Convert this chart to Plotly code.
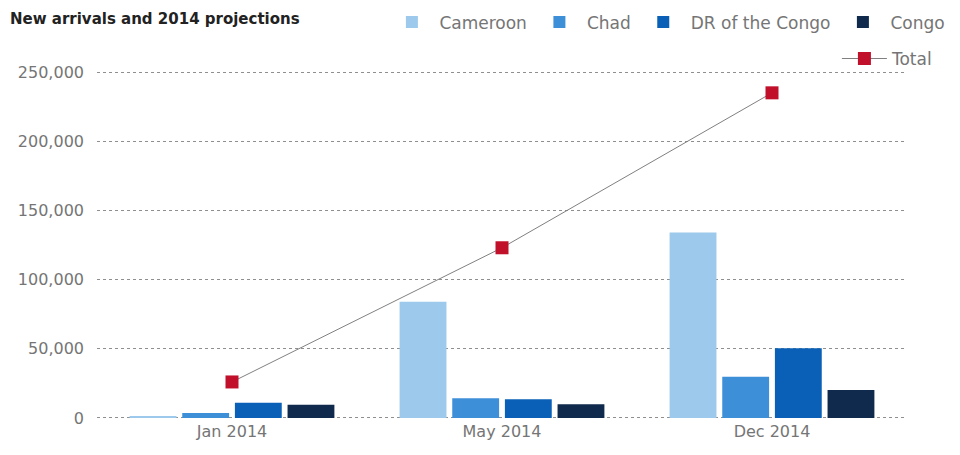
import plotly.graph_objects as go

# New arrivals by country of origin, with the projected 2014 total
periods = ["Jan 2014", "May 2014", "Dec 2014"]
cameroon = [800, 84000, 134000]
chad = [3500, 14200, 29800]
dr_congo = [11000, 13500, 50300]
congo = [9500, 9900, 20200]
total = [26000, 123000, 235000]

y_ticks = [0, 50000, 100000, 150000, 200000, 250000]
y_tick_labels = ["0", "50,000", "100,000", "150,000", "200,000", "250,000"]

FONT = "DejaVu Sans"
GREY_TEXT = "#757575"

W, H = 960, 455
ML, MR, MT, MB = 97, 53, 70, 35
PW, PH = W - ML - MR, H - MT - MB

series = [
    ("Cameroon", cameroon, "#9cc9ec"),
    ("Chad", chad, "#3d8fd8"),
    ("DR of the Congo", dr_congo, "#0a60b6"),
    ("Congo", congo, "#0f2a4d"),
]

fig = go.Figure()
for name, vals, color in series:
    fig.add_trace(go.Bar(
        x=periods, y=vals, name=name,
        marker=dict(color=color, line=dict(width=0)),
        legend="legend",
    ))

fig.add_trace(go.Scatter(
    x=periods, y=total, name="Total",
    mode="lines+markers",
    line=dict(color="#808080", width=1),
    marker=dict(symbol="square", size=13, color="#c0102a"),
    legend="legend2",
))

fig.update_layout(
    width=W, height=H,
    margin=dict(l=ML, r=MR, t=MT, b=MB, autoexpand=False),
    paper_bgcolor="white", plot_bgcolor="white",
    font=dict(family=FONT, size=16, color=GREY_TEXT),
    barmode="group", bargap=0.22, bargroupgap=0.11,
    legend=dict(
        orientation="h", xref="container", yref="container",
        x=0.99, xanchor="right", y=0.99, yanchor="top",
        font=dict(family=FONT, size=17, color=GREY_TEXT),
        itemwidth=45, bgcolor="rgba(0,0,0,0)",
    ),
    legend2=dict(
        orientation="h", xref="container", yref="container",
        x=0.977, xanchor="right", y=0.91, yanchor="top",
        font=dict(family=FONT, size=17, color=GREY_TEXT),
        itemwidth=45, bgcolor="rgba(0,0,0,0)",
    ),
    annotations=[dict(
        text="<b>New arrivals and 2014 projections</b>",
        xref="paper", yref="paper",
        x=(8 - ML) / PW, y=(H - MB - 8) / PH,
        xanchor="left", yanchor="top",
        showarrow=False,
        font=dict(family=FONT, size=15, color="#222222"),
    )],
    showlegend=True,
)

fig.update_xaxes(
    showline=False, showgrid=False, ticks="",
    tickfont=dict(size=16, color=GREY_TEXT),
)
fig.update_yaxes(
    range=[-1500, 251500],
    tickvals=y_ticks, ticktext=y_tick_labels,
    showgrid=True, gridcolor="#8f8f8f", gridwidth=1, griddash="dot",
    zeroline=False, showline=False, ticks="",
    ticklabelstandoff=12,
    tickfont=dict(size=16, color=GREY_TEXT),
)

fig.write_html("out.html")
